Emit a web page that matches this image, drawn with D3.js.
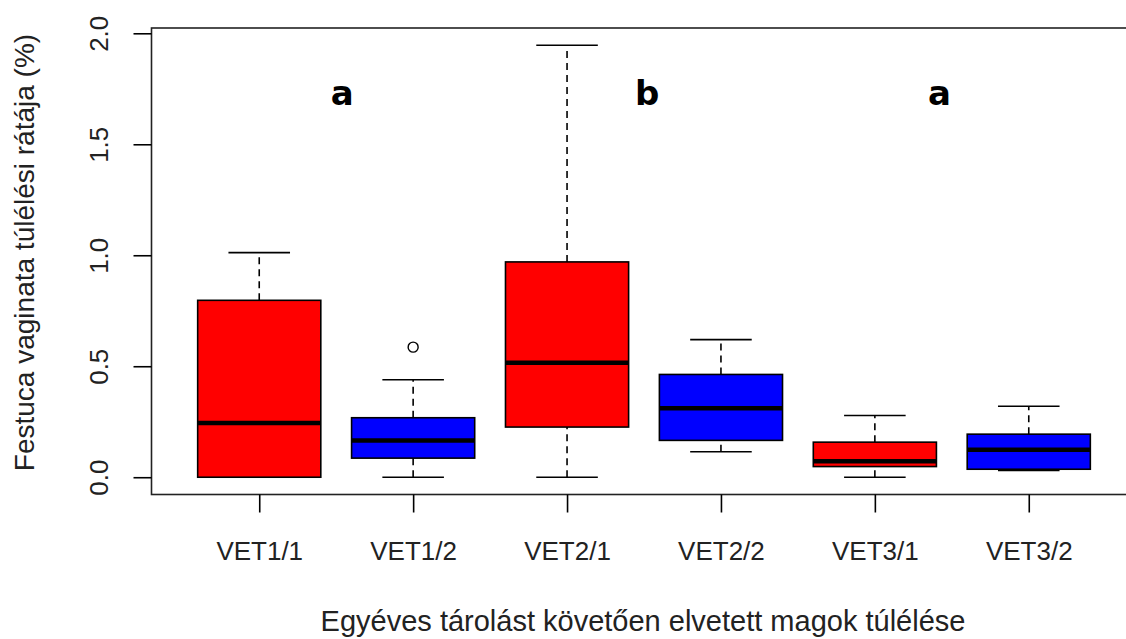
<!DOCTYPE html>
<html>
<head>
<meta charset="utf-8">
<script src="https://cdn.jsdelivr.net/npm/d3@7"></script>
<style>
  html, body { margin: 0; padding: 0; background: #fff; }
  svg { display: block; }
</style>
</head>
<body>
<svg id="chart" width="1126" height="639"></svg>
<script>
// Groups and their box statistics (survival rate, %)
const categories = ["VET1/1", "VET1/2", "VET2/1", "VET2/2", "VET3/1", "VET3/2"];
const fills      = ["#ff0000", "#0000ff", "#ff0000", "#0000ff", "#ff0000", "#0000ff"];
const whiskerLow = [0.00, 0.00, 0.00, 0.115, 0.00, 0.030];
const q1         = [0.00, 0.086, 0.226, 0.166, 0.048, 0.036];
const median     = [0.244, 0.166, 0.516, 0.311, 0.072, 0.124];
const q3         = [0.797, 0.268, 0.970, 0.463, 0.158, 0.194];
const whiskerHigh= [1.012, 0.439, 1.946, 0.620, 0.278, 0.320];
const outliers   = [[], [0.586], [], [], [], []];

// Significance letters placed between group pairs
const letters    = ["a", "b", "a"];
const letterPos  = [1.54, 3.52, 5.42];
const letterY    = 1.675;

const yTicks = [0, 0.5, 1.0, 1.5, 2.0];
const xTitle = "Egyéves tárolást követően elvetett magok túlélése";
const yTitle = "Festuca vaginata túlélési rátája (%)";

const svg = d3.select("#chart");
const font = "'Liberation Sans', Arial, sans-serif";

// Axis ranges padded by 4% as in base graphics
const n = categories.length;
const xPad = (n - 0.5 - 0.5) * 0.04;
const x = d3.scaleLinear().domain([0.5 - xPad, n + 0.5 + xPad]).range([151.5, 1136.5]);
const allVals = whiskerLow.concat(whiskerHigh, outliers.flat());
const yMin = d3.min(allVals), yMax = d3.max(allVals);
const yPad = (yMax - yMin) * 0.04;
const y = d3.scaleLinear().domain([yMin - yPad, yMax + yPad]).range([494.5, 28]);

const boxHalf = 0.4, capHalf = 0.2;
const stroke = "#000";

const data = categories.map((c, i) => ({
  c, i: i + 1, fill: fills[i], lo: whiskerLow[i], q1: q1[i], med: median[i],
  q3: q3[i], hi: whiskerHigh[i], out: outliers[i]
}));

const g = svg.append("g");

data.forEach(d => {
  const cx = x(d.i);
  const w = x(d.i + boxHalf) - cx;
  const cw = x(d.i + capHalf) - cx;
  // dashed whiskers
  [[d.q3, d.hi], [d.lo, d.q1]].forEach(([a, b]) => {
    if (b > a) {
      g.append("line").attr("x1", cx).attr("x2", cx)
        .attr("y1", y(a)).attr("y2", y(b))
        .attr("stroke", stroke).attr("stroke-width", 1.6)
        .attr("stroke-dasharray", "7,5");
    }
  });
  // staples
  [d.lo, d.hi].forEach(v => {
    g.append("line").attr("x1", cx - cw).attr("x2", cx + cw)
      .attr("y1", y(v)).attr("y2", y(v))
      .attr("stroke", stroke).attr("stroke-width", 1.6);
  });
  // box
  g.append("rect").attr("x", cx - w).attr("width", 2 * w)
    .attr("y", y(d.q3)).attr("height", y(d.q1) - y(d.q3))
    .attr("fill", d.fill).attr("stroke", stroke).attr("stroke-width", 1.6);
  // median
  g.append("line").attr("x1", cx - w).attr("x2", cx + w)
    .attr("y1", y(d.med)).attr("y2", y(d.med))
    .attr("stroke", stroke).attr("stroke-width", 4.5);
  // outliers
  d.out.forEach(v => {
    g.append("circle").attr("cx", cx).attr("cy", y(v)).attr("r", 5)
      .attr("fill", "none").attr("stroke", stroke).attr("stroke-width", 1.4);
  });
});

// Plot frame
svg.append("rect").attr("x", 151.5).attr("y", 28).attr("width", 1136.5 - 151.5)
  .attr("height", 494.5 - 28).attr("fill", "none").attr("stroke", "#222").attr("stroke-width", 1.6);

// Y axis
const yAxis = svg.append("g").attr("transform", "translate(151.5,0)")
  .call(d3.axisLeft(y).tickValues(yTicks).tickSize(18).tickFormat(d3.format(".1f")));
yAxis.select(".domain").remove();
yAxis.selectAll("line").attr("stroke", "#000").attr("stroke-width", 1.6);
yAxis.selectAll("text")
  .attr("font-family", font).attr("font-size", 26).attr("fill", "#222")
  .attr("x", 0).attr("y", 0).attr("dy", 0).attr("text-anchor", "middle")
  .attr("transform", "translate(-44,0) rotate(-90)");

// X axis
const xAxis = svg.append("g").attr("transform", "translate(0,494.5)")
  .call(d3.axisBottom(x).tickValues(d3.range(1, n + 1)).tickSize(18)
    .tickFormat(i => categories[i - 1]));
xAxis.select(".domain").remove();
xAxis.selectAll("line").attr("stroke", "#000").attr("stroke-width", 1.6);
xAxis.selectAll("text")
  .attr("font-family", font).attr("font-size", 26).attr("fill", "#222")
  .attr("y", 65).attr("dy", 0);

// Titles
svg.append("text").attr("x", 643).attr("y", 631)
  .attr("text-anchor", "middle").attr("font-family", font).attr("font-size", 29)
  .attr("fill", "#222").text(xTitle);
svg.append("text").attr("transform", `translate(34,${(35 + 470) / 2}) rotate(-90)`)
  .attr("text-anchor", "middle").attr("font-family", font).attr("font-size", 28)
  .attr("fill", "#222").text(yTitle);

// Group letters
letters.forEach((t, i) => {
  svg.append("text").attr("x", x(letterPos[i])).attr("y", y(letterY))
    .attr("text-anchor", "middle").attr("font-family", "'DejaVu Sans', sans-serif")
    .attr("font-weight", "bold").attr("font-size", 34).attr("fill", "#000").text(t);
});
</script>
</body>
</html>
